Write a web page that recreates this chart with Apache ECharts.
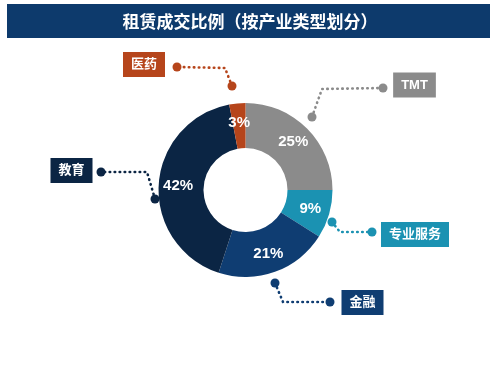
<!DOCTYPE html>
<html>
<head>
<meta charset="utf-8">
<script src="https://cdn.jsdelivr.net/npm/echarts@6/dist/echarts.min.js"></script>
<style>
html,body{margin:0;padding:0;background:#fff;}
#c{width:500px;height:367px;}
</style>
</head>
<body>
<div id="c"></div>
<script>
// ---- data ----
var titleText = '租赁成交比例（按产业类型划分）';
var categories = ['TMT', '专业服务', '金融', '教育', '医药'];
var shares = [25, 9, 21, 42, 3];
var colors = ['#8b8b8b', '#1b92b2', '#0f3d72', '#0b2544', '#b6451b'];

// ---- label annotation layout (box centre, connector points) ----
var labelLayouts = [
  {box: [414.5, 85],  line: [[312, 117], [322, 89],  [383, 88]]},
  {box: [415, 234.5], line: [[332, 222], [340, 232], [372, 232]]},
  {box: [362.5, 302.5], line: [[275, 283], [283, 302], [330, 302]]},
  {box: [71.5, 170.5], line: [[155, 199], [147, 172], [101, 172]]},
  {box: [144, 64.5],  line: [[232, 86], [225, 68], [177, 67]]}
];

var FONT = '"Liberation Sans", "Noto Sans CJK SC", sans-serif';
var chart = echarts.init(document.getElementById('c'), null, {renderer: 'canvas'});

var mainData = categories.map(function (n, i) {
  return {name: n, value: shares[i], itemStyle: {color: colors[i]}};
});
var annData = categories.map(function (n, i) {
  return {
    name: n, value: shares[i],
    label: {backgroundColor: colors[i]},
    labelLine: {lineStyle: {color: colors[i]}}
  };
});

var graphics = [{
  type: 'rect', left: 7, top: 4, z: 0,
  shape: {width: 483, height: 34},
  style: {fill: '#0d3a6c'}
}];
labelLayouts.forEach(function (L, i) {
  [L.line[0], L.line[2]].forEach(function (p) {
    graphics.push({
      type: 'circle', z: 100,
      shape: {cx: p[0], cy: p[1], r: 4.5},
      style: {fill: colors[i]}
    });
  });
});

chart.setOption({
  backgroundColor: '#ffffff',
  animation: false,
  title: {
    text: titleText, left: 'center', top: 12, padding: 0,
    textStyle: {color: '#ffffff', fontSize: 17, fontWeight: 'bold', lineHeight: 20,
      fontFamily: '"Noto Sans CJK SC", sans-serif'}
  },
  graphic: graphics,
  series: [
    {
      type: 'pie', radius: [42, 87], center: [245.5, 190],
      startAngle: 90, clockwise: true, avoidLabelOverlap: false,
      silent: true,
      data: mainData,
      label: {
        show: true, position: 'inside', color: '#ffffff',
        fontSize: 15, fontWeight: 'bold', fontFamily: FONT,
        formatter: function (p) { return p.value + '%'; }
      },
      labelLine: {show: false}
    },
    {
      type: 'pie', radius: [42, 87], center: [245.5, 190],
      startAngle: 90, clockwise: true, avoidLabelOverlap: false,
      silent: true, z: 3,
      itemStyle: {color: 'rgba(0,0,0,0)'},
      data: annData,
      label: {
        show: true, position: 'outside', color: '#ffffff',
        fontSize: 13, fontWeight: 'bold', fontFamily: FONT,
        padding: [5, 8], lineHeight: 15,
        formatter: '{b}'
      },
      labelLine: {
        show: true, length: 10, length2: 10,
        lineStyle: {width: 2.6, type: [0.5, 4.5], cap: 'round'}
      },
      labelLayout: function (params) {
        var L = labelLayouts[params.dataIndex];
        return {
          x: L.box[0], y: L.box[1], align: 'center', verticalAlign: 'middle',
          labelLinePoints: L.line
        };
      }
    }
  ]
});
</script>
</body>
</html>
